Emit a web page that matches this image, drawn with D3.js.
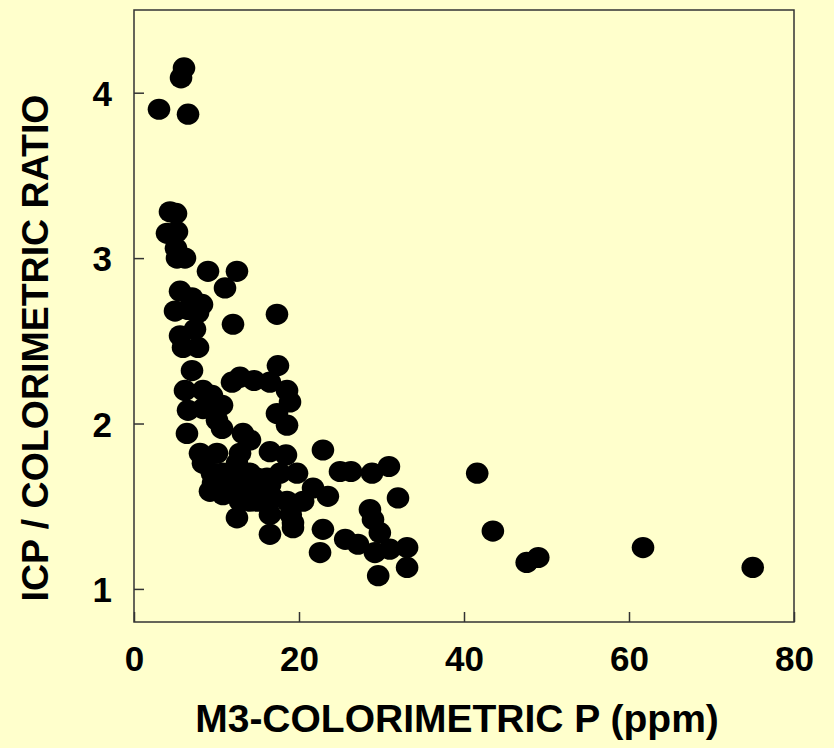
<!DOCTYPE html>
<html>
<head>
<meta charset="utf-8">
<script src="https://cdn.jsdelivr.net/npm/d3@7"></script>
<style>
  html, body { margin: 0; padding: 0; background: #FFFFCC; }
  svg { display: block; }
</style>
</head>
<body>
<svg id="chart" width="834" height="748"></svg>
<script>
// M3-colorimetric P (ppm) for each soil sample
const phosphorus = [
  6.06, 5.70, 3.03, 6.55, 4.36, 5.09, 4.00, 5.21, 5.09, 5.21,
  6.18, 8.97, 12.48, 11.03, 5.58, 7.03, 8.24, 4.97, 6.55, 7.76,
  12.0, 17.33, 5.58, 7.39, 5.94, 7.76, 7.03, 17.45, 6.18, 8.36,
  9.45, 11.88, 12.85, 14.55, 16.48, 18.55, 18.91, 6.55, 8.36, 10.67,
  17.33, 18.55, 6.42, 10.06, 10.67, 13.21, 14.06, 8.0, 10.06, 12.85,
  16.48, 18.42, 22.9, 8.36, 12.48, 9.45, 12.48, 14.06, 10.79, 16.12,
  17.70, 19.76, 24.97, 26.3, 28.85, 30.9, 41.6, 9.58, 12.0, 9.21,
  10.79, 13.7, 14.9, 15.6, 16.5, 21.7, 23.5, 32.0, 12.85, 14.06,
  14.9, 16.85, 18.55, 20.5, 28.6, 12.48, 16.48, 19.0, 19.27, 28.97,
  16.48, 19.27, 22.9, 29.8, 25.6, 27.15, 22.55, 29.2, 31.0, 33.1,
  33.1, 29.6, 43.5, 47.6, 49.0, 61.7, 75.0
];

// ICP / colorimetric ratio for the same samples
const ratio = [
  4.15, 4.09, 3.90, 3.87, 3.28, 3.27, 3.15, 3.16, 3.06, 3.00,
  3.00, 2.92, 2.92, 2.82, 2.80, 2.76, 2.72, 2.68, 2.69, 2.67,
  2.60, 2.66, 2.53, 2.57, 2.46, 2.46, 2.32, 2.35, 2.20, 2.20,
  2.17, 2.25, 2.28, 2.26, 2.25, 2.20, 2.13, 2.08, 2.09, 2.11,
  2.06, 1.99, 1.94, 2.02, 1.97, 1.94, 1.90, 1.82, 1.82, 1.82,
  1.83, 1.81, 1.84, 1.76, 1.76, 1.70, 1.70, 1.70, 1.70, 1.67,
  1.70, 1.70, 1.71, 1.71, 1.70, 1.74, 1.70, 1.64, 1.63, 1.59,
  1.57, 1.64, 1.67, 1.61, 1.63, 1.61, 1.56, 1.55, 1.53, 1.53,
  1.53, 1.55, 1.53, 1.53, 1.48, 1.43, 1.45, 1.45, 1.40, 1.42,
  1.33, 1.37, 1.36, 1.34, 1.30, 1.27, 1.22, 1.22, 1.24, 1.25,
  1.13, 1.08, 1.35, 1.16, 1.19, 1.25, 1.13
];

const xTicks = [0, 20, 40, 60, 80];
const yTicks = [1, 2, 3, 4];

const xTitle = "M3-COLORIMETRIC P (ppm)";
const yTitle = "ICP / COLORIMETRIC RATIO";

const svg = d3.select("#chart");
const margin = { left: 134, right: 40, top: 10, bottom: 126 };
const width = 834, height = 748;
const plotW = width - margin.left - margin.right;
const plotH = height - margin.top - margin.bottom;

const x = d3.scaleLinear().domain([0, 80]).range([margin.left, margin.left + plotW]);
const y = d3.scaleLinear().domain([0.8, 4.5]).range([margin.top + plotH, margin.top]);

const font = "'Liberation Sans', Arial, Helvetica, sans-serif";
const axisColor = "#333";

// Points
const data = phosphorus.map((p, i) => ({ p, r: ratio[i] }));
svg.append("g")
  .selectAll("ellipse")
  .data(data)
  .join("ellipse")
  .attr("cx", d => x(d.p))
  .attr("cy", d => y(d.r))
  .attr("rx", 11.3)
  .attr("ry", 10.6)
  .attr("fill", "#000");

// Plot frame
svg.append("rect")
  .attr("x", margin.left)
  .attr("y", margin.top)
  .attr("width", plotW)
  .attr("height", plotH)
  .attr("fill", "none")
  .attr("stroke", axisColor)
  .attr("stroke-width", 1.5);

// Axes with inward ticks
const xAxis = d3.axisBottom(x).tickValues(xTicks).tickSize(-10).tickPadding(24)
  .tickFormat(d3.format("d"));
const yAxis = d3.axisLeft(y).tickValues(yTicks).tickSize(-10).tickPadding(22)
  .tickFormat(d3.format("d"));

const gx = svg.append("g")
  .attr("transform", `translate(0,${margin.top + plotH})`)
  .call(xAxis);
const gy = svg.append("g")
  .attr("transform", `translate(${margin.left},0)`)
  .call(yAxis);

[gx, gy].forEach(g => {
  g.select(".domain").remove();
  g.selectAll(".tick line").attr("stroke", axisColor).attr("stroke-width", 1.5);
  g.selectAll(".tick text")
    .attr("fill", "#000")
    .style("font-family", font)
    .style("font-weight", "bold")
    .style("font-size", "35px");
});
gx.selectAll(".tick text").attr("dy", "0.71em");
gy.selectAll(".tick text").attr("dy", "0.36em");

// Axis titles
svg.append("text")
  .attr("x", margin.left + plotW / 2 - 7)
  .attr("y", 732)
  .attr("text-anchor", "middle")
  .style("font-family", font)
  .style("font-weight", "bold")
  .style("font-size", "39px")
  .attr("fill", "#000")
  .text(xTitle);

svg.append("text")
  .attr("transform", "translate(48,348) rotate(-90)")
  .attr("text-anchor", "middle")
  .style("font-family", font)
  .style("font-weight", "bold")
  .style("font-size", "37.5px")
  .attr("fill", "#000")
  .text(yTitle);
</script>
</body>
</html>
